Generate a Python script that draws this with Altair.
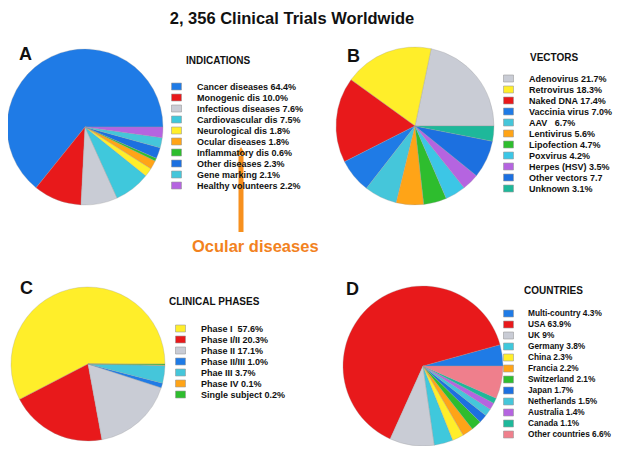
import math
import pandas as pd
import altair as alt

FONT = "Liberation Sans"

# ---------------- data ----------------
ind_labels = ["Cancer diseases 64.4%", "Monogenic dis 10.0%", "Infectious diseases 7.6%",
              "Cardiovascular dis 7.5%", "Neurological dis 1.8%", "Ocular diseases 1.8%",
              "Inflammatory dis 0.6%", "Other diseases 2.3%", "Gene marking 2.1%",
              "Healthy volunteers 2.2%"]
ind_values = [64.4, 10.0, 7.6, 7.5, 1.8, 1.8, 0.6, 2.3, 2.1, 2.2]
ind_colors = ["#1F7BE6", "#E8191B", "#C9CCD5", "#3FC8DC", "#FFEE2A", "#FFA417",
              "#2EBD2E", "#1C70E0", "#45C6DA", "#B564E0"]

vec_labels = ["Adenovirus 21.7%", "Retrovirus 18.3%", "Naked DNA 17.4%", "Vaccinia virus 7.0%",
              "AAV\u00a0\u00a0 6.7%", "Lentivirus 5.6%", "Lipofection 4.7%", "Poxvirus 4.2%",
              "Herpes (HSV) 3.5%", "Other vectors 7.7", "Unknown 3.1%"]
vec_values = [21.7, 18.3, 17.4, 7.0, 6.7, 5.6, 4.7, 4.2, 3.5, 7.7, 3.1]
vec_colors = ["#C9CCD5", "#FFEE2A", "#E8191B", "#1F7BE6", "#45C6DA", "#FFA417",
              "#2EBD2E", "#3CC6E6", "#B564E0", "#1C70E0", "#1EB89A"]

ph_labels = ["Phase I\u00a0 57.6%", "Phase I/II 20.3%", "Phase II 17.1%", "Phase II/III 1.0%",
             "Phae III 3.7%", "Phase IV 0.1%", "Single subject 0.2%"]
ph_values = [57.6, 20.3, 17.1, 1.0, 3.7, 0.1, 0.2]
ph_colors = ["#FFEE2A", "#E8191B", "#C9CCD5", "#1F7BE6", "#45C6DA", "#FFA417", "#2EBD2E"]

co_labels = ["Multi-country 4.3%", "USA 63.9%", "UK 9%", "Germany 3.8%", "China 2.3%",
             "Francia 2.2%", "Switzerland 2.1%", "Japan 1.7%", "Netherlands 1.5%",
             "Australia 1.4%", "Canada 1.1%", "Other countries 6.6%"]
co_values = [4.3, 63.9, 9.0, 3.8, 2.3, 2.2, 2.1, 1.7, 1.5, 1.4, 1.1, 6.6]
co_colors = ["#1F7BE6", "#E8191B", "#C9CCD5", "#3FC8DC", "#FFEE2A", "#FFA417",
             "#2EBD2E", "#1C70E0", "#45C6DA", "#B564E0", "#1EB89A", "#EF7F8C"]

RECT = "M-1,-0.7H1V0.7H-1Z"

PT = 8  # top padding of the chart (pixels)


def Y(v):
    # v is a position measured in page pixels
    return v - 8 - PT


def X(v):
    return v - 8


def pie(labels, values, colors, cx, cy, r, lx, ly, fs=9, off=15):
    df = pd.DataFrame({"label": labels, "value": values, "idx": list(range(len(labels)))})
    return alt.Chart(df).mark_arc(radius=r, stroke="#9a9a9a", strokeWidth=0.3).encode(
        theta=alt.Theta("value:Q", stack=True,
                        scale=alt.Scale(range=[2.5 * math.pi, 0.5 * math.pi])),
        color=alt.Color(
            "label:N",
            scale=alt.Scale(domain=labels, range=colors),
            title=None,
            legend=alt.Legend(
                orient="none", legendX=X(lx), legendY=Y(ly), padding=0,
                symbolType=RECT, symbolSize=100, symbolStrokeWidth=0.6,
                symbolStrokeColor="#9a9a9a", rowPadding=0, labelOffset=off,
                labelFont=FONT, labelFontSize=fs, labelFontWeight="bold",
                labelColor="#111111", labelLimit=200,
            ),
        ),
        order=alt.Order("idx:Q"),
        x=alt.value(X(cx)),
        y=alt.value(Y(cy)),
    )


def label(text, x, y, size, color="#111111", align="left", baseline="middle", weight="bold"):
    return alt.Chart(alt.Data(values=[{}])).mark_text(
        text=text, font=FONT, fontSize=size, fontWeight=weight, color=color,
        align=align, baseline=baseline,
    ).encode(x=alt.value(X(x)), y=alt.value(Y(y)))


pie_a = pie(ind_labels, ind_values, ind_colors, 85, 127, 78, 171, 81)
pie_b = pie(vec_labels, vec_values, vec_colors, 415, 126, 79, 503, 73)
pie_c = pie(ph_labels, ph_values, ph_colors, 88, 364, 77, 175, 323)
pie_d = pie(co_labels, co_values, co_colors, 423, 366, 80, 503, 308, fs=8.3, off=14)

texts = [
    label("2, 356 Clinical Trials Worldwide", 292, 23.5, 16.5, align="center", baseline="alphabetic"),
    label("A", 19, 60, 18, baseline="alphabetic"),
    label("B", 347, 62, 18, baseline="alphabetic"),
    label("C", 20, 294, 18, baseline="alphabetic"),
    label("D", 346, 295, 18, baseline="alphabetic"),
    label("INDICATIONS", 186, 61, 10),
    label("VECTORS", 530, 58, 10),
    label("CLINICAL PHASES", 169, 302, 10),
    label("COUNTRIES", 524, 291, 10),
    label("Ocular diseases", 192, 252, 16.5, color="#F2821E", baseline="alphabetic"),
]

arrow_shaft = alt.Chart(alt.Data(values=[{}])).mark_rule(
    color="#F7901E", strokeWidth=5
).encode(x=alt.value(X(241)), y=alt.value(Y(156)), y2=alt.value(Y(232)))
arrow_head = alt.Chart(alt.Data(values=[{}])).mark_point(
    shape="triangle-up", filled=True, color="#F7901E", size=90, opacity=1
).encode(x=alt.value(X(241)), y=alt.value(Y(151)))

chart = alt.layer(pie_a, pie_b, pie_c, pie_d, arrow_shaft, arrow_head, *texts).resolve_scale(
    theta="independent", color="independent"
).properties(
    width=612, height=438 - PT,
    padding={"left": 0, "top": PT, "right": 0, "bottom": 0},
    autosize=alt.AutoSizeParams(type="none"),
    background="white",
).configure_view(strokeWidth=0)

chart.save("out.html", embed_options={"renderer": "svg", "actions": False})
